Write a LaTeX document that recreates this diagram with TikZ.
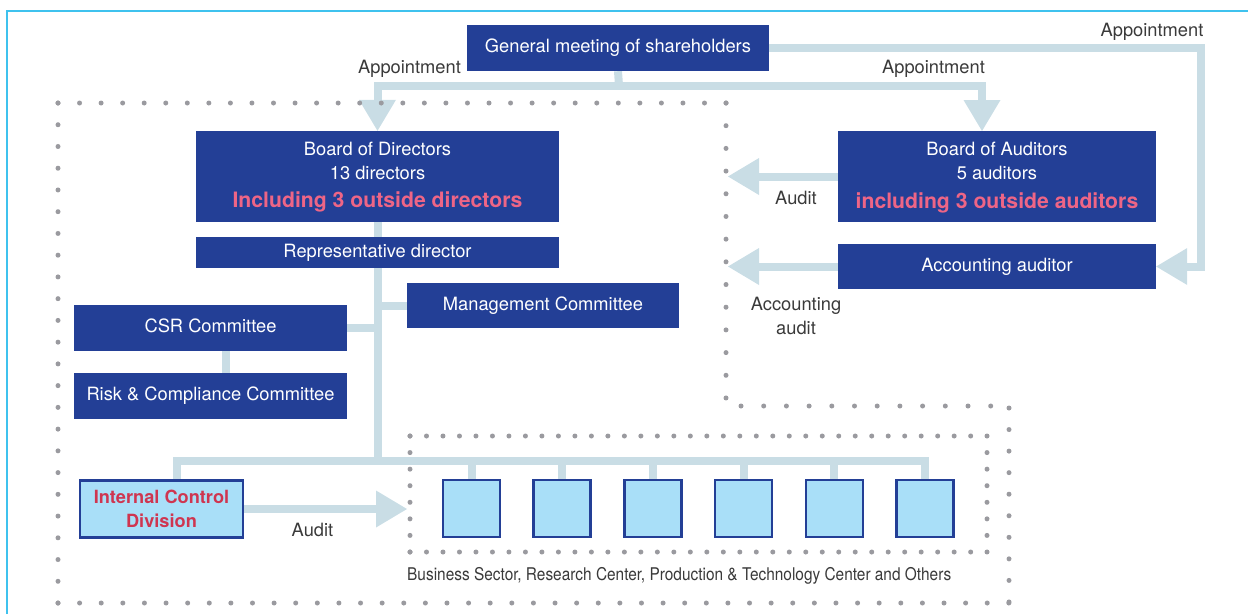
\documentclass[tikz,border=0pt]{standalone}
\usepackage{fontspec}
\usepackage{graphicx}
\setmainfont{TeX Gyre Heros}
\usetikzlibrary{arrows.meta,backgrounds}
\definecolor{boxblue}{HTML}{233F96}
\definecolor{pinktext}{HTML}{EE6586}
\definecolor{redtext}{HTML}{CF3550}
\definecolor{lightfill}{HTML}{A9DFF8}
\definecolor{connc}{HTML}{C9DDE5}
\definecolor{dotgray}{HTML}{9A9A9F}
\definecolor{framec}{HTML}{3FC2EE}
\definecolor{labelgray}{HTML}{3A3A3A}
\begin{document}
\begin{tikzpicture}[x=1pt,y=-1pt,
  sz/.style 2 args={minimum width=#1pt,minimum height=#2pt},
  box/.style={fill=boxblue,inner sep=0pt,text=white,text height=13pt,text depth=3.5pt,font=\fontsize{18.3}{22}\selectfont},
  lbox/.style={fill=lightfill,draw=boxblue,line width=2.5pt,inner sep=0pt},
  wt/.style={inner sep=0pt,text=white,font=\fontsize{18.3}{22}\selectfont},
  pk/.style={inner sep=0pt,text=pinktext,font=\fontsize{21.2}{25}\selectfont\bfseries},
  rt/.style={inner sep=0pt,text=redtext,font=\fontsize{18.2}{22}\selectfont\bfseries},
  lab/.style={inner sep=0pt,text=labelgray,font=\fontsize{18.3}{24}\selectfont},
  conn/.style={draw=connc,line width=8pt},
  arr/.style={-{Triangle[width=37pt,length=31pt,line width=0pt]}},
  dotline/.style={draw=dotgray,line width=5pt,line cap=round,dash pattern=on 0pt off #1pt},
]
\useasboundingbox (0,0) rectangle (1248,614);
% frame
\draw[framec,line width=2pt] (7,614) -- (7,11) -- (1248,11);

% dotted regions
\draw[dotline=21.55] (58,103) -- (726.1,103);
\draw[dotline=22.69] (726,103) -- (726,398.1);
\draw[dotline=22.7] (741,406) -- (991.1,406);
\draw[dotline=21.55] (1009,408) -- (1009,602.1);
\draw[dotline=21.61] (58,603) -- (1009.1,603);
\draw[dotline=21.74] (58,103) -- (58,603.1);
\draw[dotline=16.49] (410,436) -- (987.1,436);
\draw[dotline=16.49] (410,552) -- (987.1,552);
\draw[dotline=16.57] (410,436) -- (410,552.1);
\draw[dotline=16.57] (987,436) -- (987,552.1);

% nodes
\node[box,sz={302}{46}] (gm) at (618,48) {General meeting of shareholders};
\node[box,sz={363}{91}] (bod) at (377.5,176.5) {};
\node[wt,anchor=base] (bod1) at (377.5,155) {Board of Directors};
\node[wt,anchor=base] (bod2) at (377.5,179) {13 directors};
\node[pk,anchor=base] (bod3) at (377.5,207) {Including 3 outside directors};
\node[box,sz={363}{31}] (rep) at (377.5,252.5) {Representative director};
\node[box,sz={272}{45}] (mgmt) at (543,305.5) {Management Committee};
\node[box,sz={273}{46}] (csr) at (210.5,328) {CSR Committee};
\node[box,sz={273}{46}] (risk) at (210.5,396) {Risk \& Compliance Committee};
\node[box,sz={318}{91}] (boa) at (997,176.5) {};
\node[wt,anchor=base] (boa1) at (997,155) {Board of Auditors};
\node[wt,anchor=base] (boa2) at (997,179) {5 auditors};
\node[pk,anchor=base] (boa3) at (997,208) {including 3 outside auditors};
\node[box,sz={318}{45}] (acc) at (997,266.5) {Accounting auditor};
\node[lbox,sz={163}{57}] (icd) at (161.5,509) {};
\node[rt,anchor=base] (icd1) at (161.5,503) {Internal Control};
\node[rt,anchor=base] (icd2) at (161.5,527) {Division};
\foreach \i/\x in {1/471.5,2/562.2,3/652.9,4/743.6,5/834.3,6/925}
  \node[lbox,sz={57}{57}] (b\i) at (\x,508.5) {};

% labels
\node[lab] (apl) at (409.5,69) {Appointment};
\node[lab] (apm) at (933.5,69) {Appointment};
\node[lab] (apr) at (1152,32) {Appointment};
\node[lab] (au1) at (796,198) {Audit};
\node[lab,align=center] (au2) at (796,316) {Accounting\\audit};
\node[lab] (au3) at (312.5,530) {Audit};
\node[anchor=base west,inner sep=0pt,text=labelgray] (cap) at (407,580)
  {\resizebox{544pt}{\height}{\fontsize{17.5}{20}\selectfont Business Sector, Research Center, Production \& Technology Center and Others}};

% coordinates
\coordinate (apj) at (619,85.5);
\coordinate (boain) at (982,131);
\coordinate (rc1) at (1200.5,48);
\coordinate (rc2) at (1200.5,266.5);
\coordinate (audtip) at (728,176.5);
\coordinate (acctip) at (728,266.5);
\coordinate (busL) at (177,460.5);
\coordinate (busR) at (925,460.5);
\coordinate (cr) at (226,0);
\coordinate (icdtip) at (407,509);

\begin{scope}[on background layer]
\draw[conn] (gm.south) -- (apj);
\draw[conn,arr] (apj) -| (bod.north);
\draw[conn,arr] (apj) -| (boain);
\draw[conn,arr] (gm.east) -- (rc1) -- (rc2) -- (acc.east);
\draw[conn,arr] (boa.west) -- (audtip);
\draw[conn,arr] (acc.west) -- (acctip);
\draw[conn] (bod.south) -- (bod.south |- busL);
\draw[conn] (mgmt.west) -- (mgmt.west -| bod.south);
\draw[conn] (csr.east) -- (csr.east -| bod.south);
\draw[conn] (csr.south -| cr) -- (risk.north -| cr);
\draw[conn] (icd.north -| busL) -- (busL) -- (busR) -- (b6.north);
\foreach \i in {1,...,5} \draw[conn] (b\i.north) -- (b\i.north |- busL);
\draw[conn,arr] (icd.east) -- (icdtip);
\end{scope}
\end{tikzpicture}
\end{document}
